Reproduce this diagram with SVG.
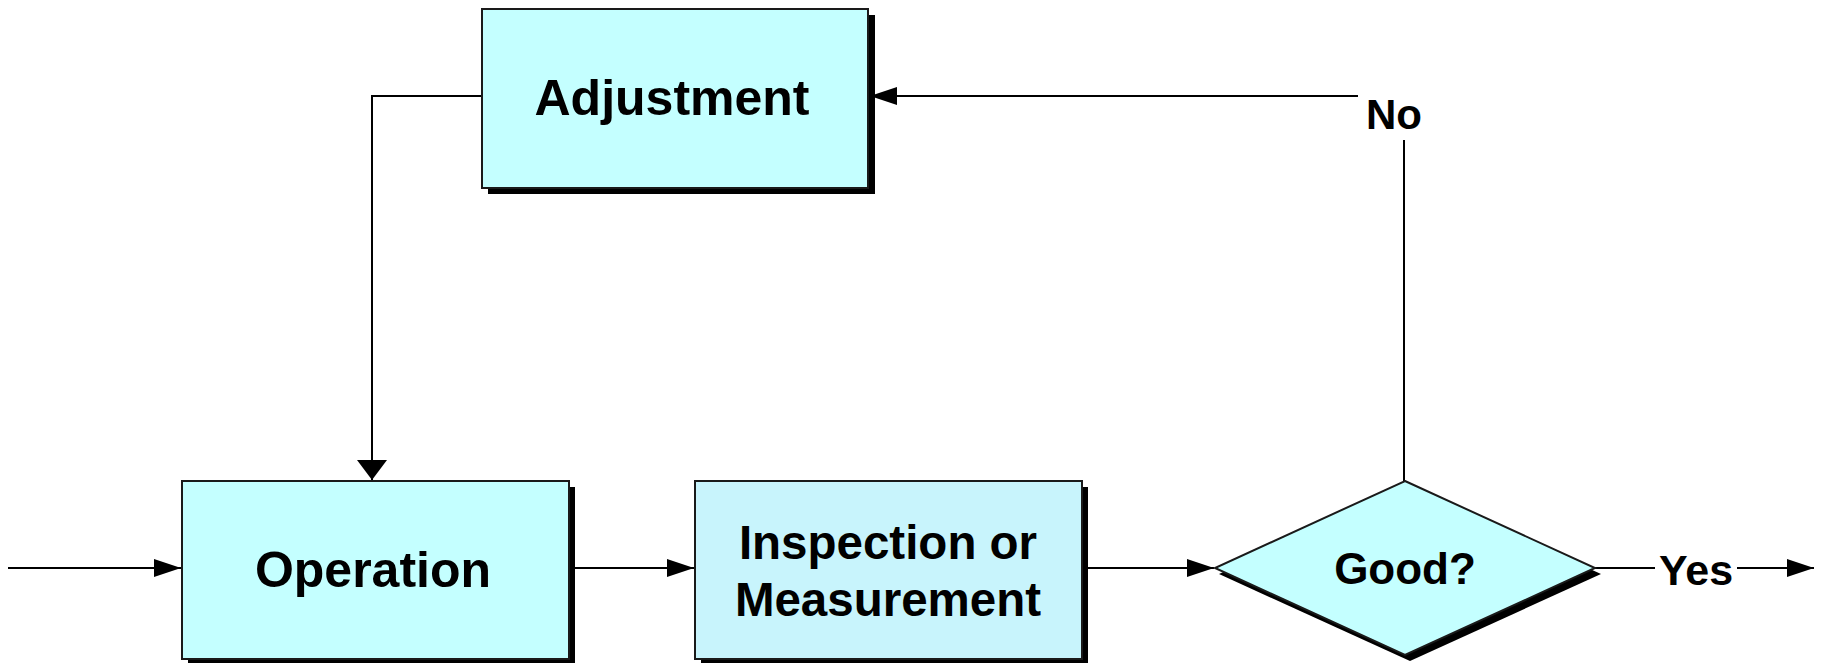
<svg xmlns="http://www.w3.org/2000/svg" width="1821" height="663" viewBox="0 0 1821 663">
<style>
.box{fill:#C4FFFF;stroke:#1a1a1a;stroke-width:2}
.box2{fill:#C8F4FC;stroke:#1a1a1a;stroke-width:2}
.shadow{fill:#000}
.lbl{font-family:"Liberation Sans",Arial,sans-serif;font-weight:bold;fill:#000;text-anchor:middle}
.conn{stroke:#000;stroke-width:2;fill:none}
</style>
<defs>
<marker id="ah" markerUnits="userSpaceOnUse" markerWidth="28" markerHeight="20" refX="27" refY="9" orient="auto">
<path d="M0,0 L27,9 L0,18 Z" fill="#000"/>
</marker>
<marker id="ahd" markerUnits="userSpaceOnUse" markerWidth="22" markerHeight="30" refX="20" refY="15" orient="auto">
<path d="M0,0 L20,15 L0,30 Z" fill="#000"/>
</marker>
</defs>
<rect width="1821" height="663" fill="#fff"/>
<g id="connectors">
<path class="conn" d="M8,568 H181" marker-end="url(#ah)"/>
<path class="conn" d="M569,568 H694" marker-end="url(#ah)"/>
<path class="conn" d="M1082,568 H1214" marker-end="url(#ah)"/>
<path class="conn" d="M1595,568 H1655"/>
<path class="conn" d="M1737,568 H1814" marker-end="url(#ah)"/>
<path class="conn" d="M1404,481 V140"/>
<path class="conn" d="M1358,96 H870" marker-end="url(#ah)"/>
<path class="conn" d="M482,96 H372 V480" marker-end="url(#ahd)"/>
<text class="lbl" x="1394" y="129" font-size="42">No</text>
<text class="lbl" x="1696" y="585" font-size="43">Yes</text>
</g>
<g id="adjustment">
<rect class="shadow" x="488" y="15" width="387" height="179"/>
<rect class="box" x="482" y="9" width="386" height="179"/>
<text class="lbl" x="672" y="115" font-size="50">Adjustment</text>
</g>
<g id="operation">
<rect class="shadow" x="188" y="487" width="387" height="178"/>
<rect class="box" x="182" y="481" width="387" height="178"/>
<text class="lbl" x="373" y="587" font-size="50">Operation</text>
</g>
<g id="inspection">
<rect class="shadow" x="701" y="487" width="387" height="178"/>
<rect class="box2" x="695" y="481" width="387" height="178"/>
<text class="lbl" x="888" y="559" font-size="47.5">Inspection or</text>
<text class="lbl" x="888" y="616" font-size="47.5">Measurement</text>
</g>
<g id="good">
<polygon class="shadow" points="1409,487 1601,574 1410,661 1219,574"/>
<polygon class="box" points="1405,481 1595,568 1405,655 1215,568"/>
<text class="lbl" x="1405" y="584" font-size="44">Good?</text>
</g>
</svg>
